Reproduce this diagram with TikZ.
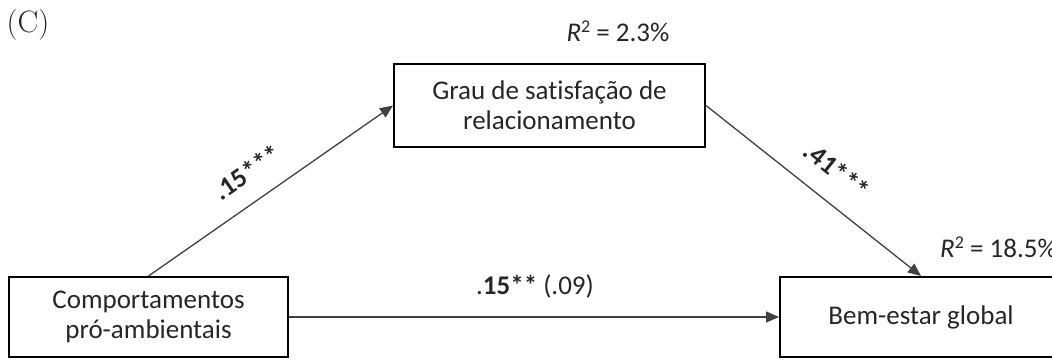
\documentclass[tikz,border=0pt]{standalone}
\usepackage{fontspec}
\setmainfont[Ligatures=NoCommon]{Carlito}
\newfontfamily\serifC{Latin Modern Roman}
\usetikzlibrary{arrows.meta}
\begin{document}
\begin{tikzpicture}[x=1pt,y=-1pt,
  every node/.style={font=\fontsize{27}{30}\selectfont, text=black!85},
  varbox/.style={draw=black, line width=2pt, align=center, inner sep=0pt},
  path/.style={draw=black!75, line width=1.3pt, -{Triangle[length=13pt,width=11pt]}},
  coef/.style={inner sep=1pt},
  rsq/.style={inner sep=0pt}]
\clip (0,0) rectangle (1052,359);
\node[font=\serifC\fontsize{31}{34}\selectfont] (lbl) at (28,25) {(C)};
\node[varbox, minimum width=279pt, minimum height=80pt] (x) at (148.5,317) {Comportamentos\\pró-ambientais};
\node[varbox, minimum width=311pt, minimum height=83pt] (m) at (549.5,105.5) {Grau de satisfação de\\relacionamento};
\node[varbox, minimum width=282pt, minimum height=80pt] (y) at (921,317) {Bem-estar global};
\draw[path] (x.north) -- (m.west);
\draw[path] (m.east) -- (y.north);
\draw[path] (x.east) -- (y.west);
\node[coef, rotate=34.7] (a) at (247,172) {\textbf{.15***}};
\node[coef, rotate=-38.7] (b) at (837,170) {\textbf{.41***}};
\node[coef] (c) at (535,286) {.\textbf{15**} (.09)};
\node[rsq] (r1) at (618,31) {\textit{R}\raisebox{0.35em}{\fontsize{18}{20}\selectfont 2} = 2.3\%};
\node[rsq, anchor=west] (r2) at (940,247) {\textit{R}\raisebox{0.35em}{\fontsize{18}{20}\selectfont 2} = 18.5\%};
\end{tikzpicture}
\end{document}
